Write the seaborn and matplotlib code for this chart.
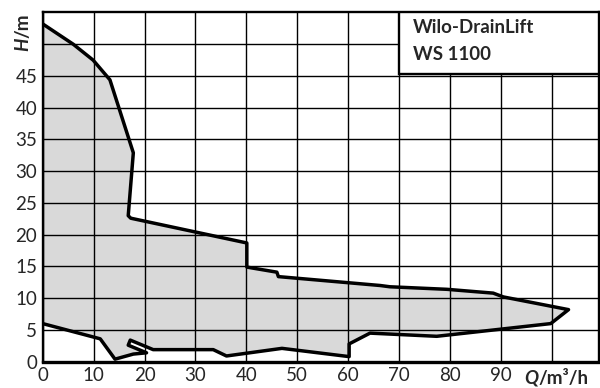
import numpy as np
import matplotlib
matplotlib.use("Agg")
import matplotlib.pyplot as plt
import seaborn as sns
from matplotlib.patches import Rectangle

# operating range outline (Q in m3/h, H in m)
q_curve = [0.0, 6.0, 9.9, 13.2, 17.8, 16.8, 17.3, 40.1, 40.1, 46.0, 46.3, 66.3, 68.2, 79.4,
           88.5, 90.5, 103.3, 99.8, 77.4, 64.3, 60.2, 60.2, 47.0, 36.1, 33.5, 21.7,
           17.2, 16.8, 20.4, 17.8, 14.2, 11.3, 0.0]
h_curve = [53.2, 50.0, 47.5, 44.4, 32.9, 23.0, 22.6, 18.7, 14.9, 14.1, 13.4, 12.0, 11.8, 11.4,
           10.8, 10.2, 8.2, 6.0, 4.0, 4.5, 2.8, 0.8, 2.1, 0.9, 1.9, 1.9,
           3.4, 2.6, 1.4, 1.2, 0.4, 3.6, 6.0]

x_ticks = list(range(0, 101, 10))
x_labels = ["0", "10", "20", "30", "40", "50", "60", "70", "80", "90", ""]
y_ticks = list(range(0, 51, 5))
y_labels = ["0", "5", "10", "15", "20", "25", "30", "35", "40", "45", ""]

title_lines = ["Wilo-DrainLift", "WS 1100"]

sns.set_style("white")
plt.rcParams["font.family"] = ["Lato", "DejaVu Sans"]

fig = plt.figure(figsize=(6, 3.88), dpi=100)
ax = fig.add_axes([0.0712, 0.0678, 0.9264, 0.9])

# grey area first, then the outline
ax.fill(q_curve + [0.0], h_curve + [53.2], color="#d9d9d9", zorder=1, lw=0)
sns.lineplot(x=q_curve, y=h_curve, sort=False, estimator=None, color="black",
             lw=2.5, ax=ax, zorder=3)

ax.set_xlim(0, 109.2)
ax.set_ylim(0, 55)
ax.set_xticks(x_ticks)
ax.set_xticklabels(x_labels, fontsize=13.5)
ax.set_yticks(y_ticks)
ax.set_yticklabels(y_labels, fontsize=13.5)
ax.tick_params(length=0, pad=4)
for lab in ax.get_yticklabels():
    lab.set_verticalalignment("center_baseline")
ax.grid(True, color="black", lw=1.0, zorder=2)
ax.set_axisbelow(False)
for side in ["left", "top", "right"]:
    ax.spines[side].set_color("black")
    ax.spines[side].set_linewidth(1.7)
ax.spines["bottom"].set_color("black")
ax.spines["bottom"].set_linewidth(2.4)
for sp in ax.spines.values():
    sp.set_zorder(5)

# axis labels written like the original
ax.text(-3.9, 51.0, "H", fontsize=13.5, fontweight="bold", fontstyle="italic",
        rotation=90, rotation_mode="anchor", ha="right", va="center", clip_on=False)
ax.text(-3.9, 51.0, "/m", fontsize=13.5, fontweight="bold",
        rotation=90, rotation_mode="anchor", ha="left", va="center", clip_on=False)
tr = ax.get_xaxis_transform()
ax.text(97.4, -0.047, "Q", fontsize=13.5, fontweight="bold", fontstyle="italic",
        ha="right", va="center", transform=tr, clip_on=False)
ax.text(97.4, -0.047, "/m³/h", fontsize=13.5, fontweight="bold",
        ha="left", va="center", transform=tr, clip_on=False)

# title box in the corner
ax.add_patch(Rectangle((70, 45.3), 40, 10, facecolor="white", edgecolor="black",
                       lw=1.7, zorder=4, clip_on=True))
ax.text(72.8, 52.6, title_lines[0], fontsize=13.5, fontweight="bold", va="center", zorder=6)
ax.text(72.8, 48.4, title_lines[1], fontsize=13.5, fontweight="bold", va="center", zorder=6)

fig.savefig("out.png", dpi=100)
